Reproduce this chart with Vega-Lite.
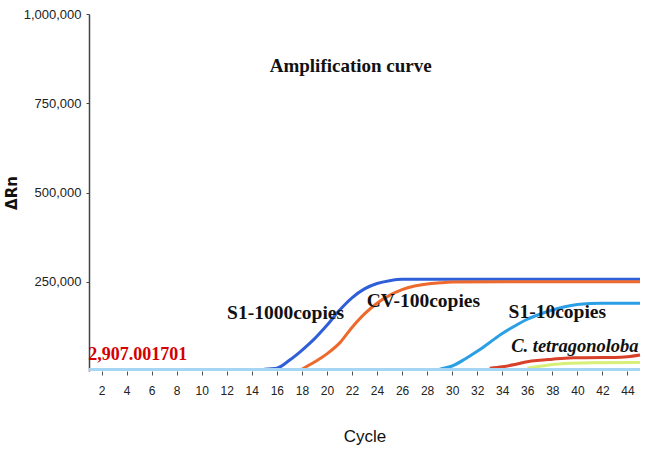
{
  "$schema": "https://vega.github.io/schema/vega-lite/v6.json",
  "width": 551,
  "height": 357,
  "autosize": "none",
  "padding": {"left": 89, "top": 14, "right": 5, "bottom": 84},
  "background": "white",
  "config": {"view": {"stroke": null}},
  "datasets": {
    "curves": [
      {"series": "S1-1000", "cycle": 15, "value": 5000},
      {"series": "S1-1000", "cycle": 16, "value": 8000},
      {"series": "S1-1000", "cycle": 17, "value": 30000},
      {"series": "S1-1000", "cycle": 18, "value": 58000},
      {"series": "S1-1000", "cycle": 19, "value": 90000},
      {"series": "S1-1000", "cycle": 20, "value": 128000},
      {"series": "S1-1000", "cycle": 21, "value": 170000},
      {"series": "S1-1000", "cycle": 22, "value": 205000},
      {"series": "S1-1000", "cycle": 23, "value": 230000},
      {"series": "S1-1000", "cycle": 24, "value": 245000},
      {"series": "S1-1000", "cycle": 25, "value": 253000},
      {"series": "S1-1000", "cycle": 26, "value": 257000},
      {"series": "S1-1000", "cycle": 30, "value": 257000},
      {"series": "S1-1000", "cycle": 35, "value": 257000},
      {"series": "S1-1000", "cycle": 40, "value": 257000},
      {"series": "S1-1000", "cycle": 45, "value": 257000},
      {"series": "CV-100", "cycle": 18, "value": 5000},
      {"series": "CV-100", "cycle": 19, "value": 25000},
      {"series": "CV-100", "cycle": 20, "value": 48000},
      {"series": "CV-100", "cycle": 21, "value": 78000},
      {"series": "CV-100", "cycle": 22, "value": 122000},
      {"series": "CV-100", "cycle": 23, "value": 160000},
      {"series": "CV-100", "cycle": 24, "value": 190000},
      {"series": "CV-100", "cycle": 25, "value": 212000},
      {"series": "CV-100", "cycle": 26, "value": 228000},
      {"series": "CV-100", "cycle": 27, "value": 238000},
      {"series": "CV-100", "cycle": 28, "value": 244000},
      {"series": "CV-100", "cycle": 29, "value": 247000},
      {"series": "CV-100", "cycle": 30, "value": 249000},
      {"series": "CV-100", "cycle": 35, "value": 250000},
      {"series": "CV-100", "cycle": 40, "value": 250000},
      {"series": "CV-100", "cycle": 45, "value": 250000},
      {"series": "S1-10", "cycle": 29, "value": 5000},
      {"series": "S1-10", "cycle": 30, "value": 14000},
      {"series": "S1-10", "cycle": 31, "value": 33000},
      {"series": "S1-10", "cycle": 32, "value": 55000},
      {"series": "S1-10", "cycle": 33, "value": 80000},
      {"series": "S1-10", "cycle": 34, "value": 105000},
      {"series": "S1-10", "cycle": 35, "value": 126000},
      {"series": "S1-10", "cycle": 36, "value": 145000},
      {"series": "S1-10", "cycle": 37, "value": 159000},
      {"series": "S1-10", "cycle": 38, "value": 171000},
      {"series": "S1-10", "cycle": 39, "value": 180000},
      {"series": "S1-10", "cycle": 40, "value": 186000},
      {"series": "S1-10", "cycle": 41, "value": 189000},
      {"series": "S1-10", "cycle": 42, "value": 190000},
      {"series": "S1-10", "cycle": 45, "value": 190000},
      {"series": "C-yellow", "cycle": 36, "value": 8000},
      {"series": "C-yellow", "cycle": 37, "value": 13000},
      {"series": "C-yellow", "cycle": 38, "value": 18000},
      {"series": "C-yellow", "cycle": 39, "value": 21000},
      {"series": "C-yellow", "cycle": 41, "value": 23000},
      {"series": "C-yellow", "cycle": 45, "value": 24000},
      {"series": "C-red", "cycle": 33, "value": 8000},
      {"series": "C-red", "cycle": 34, "value": 12000},
      {"series": "C-red", "cycle": 35, "value": 18000},
      {"series": "C-red", "cycle": 36, "value": 26000},
      {"series": "C-red", "cycle": 37, "value": 30000},
      {"series": "C-red", "cycle": 38, "value": 33000},
      {"series": "C-red", "cycle": 39, "value": 36000},
      {"series": "C-red", "cycle": 40, "value": 37000},
      {"series": "C-red", "cycle": 42, "value": 38000},
      {"series": "C-red", "cycle": 43, "value": 38000},
      {"series": "C-red", "cycle": 44, "value": 40000},
      {"series": "C-red", "cycle": 45, "value": 45000},
      {"series": "Baseline", "cycle": 1, "value": 4000},
      {"series": "Baseline", "cycle": 45, "value": 4000}
    ],
    "labels": [
      {"label": "S1-1000copies", "cycle": 16.7, "value": 162000},
      {"label": "CV-100copies", "cycle": 27.7, "value": 195000},
      {"label": "S1-10copies", "cycle": 38.4, "value": 165000}
    ]
  },
  "layer": [
    {
      "mark": {"type": "rule", "color": "#aaaaaa", "strokeDash": [2, 2], "strokeWidth": 1},
      "encoding": {"y": {"datum": 1000000}}
    },
    {
      "data": {"name": "curves"},
      "mark": {"type": "line", "strokeWidth": 3, "interpolate": "monotone"},
      "encoding": {
        "x": {
          "field": "cycle", "type": "quantitative",
          "scale": {"domain": [1, 45], "nice": false, "zero": false},
          "axis": {
            "title": "Cycle", "values": [2,4,6,8,10,12,14,16,18,20,22,24,26,28,30,32,34,36,38,40,42,44],
            "tickCount": 44, "format": "d", "labelOverlap": false,
            "domain": false, "grid": false, "tickSize": 4, "tickColor": "#555",
            "labelFont": "Liberation Sans, Arial, sans-serif",
            "labelFontSize": 12, "labelColor": "#222", "labelPadding": 10,
            "titleFont": "Liberation Sans, Arial, sans-serif",
            "titleFontSize": 17, "titleFontWeight": "normal", "titleColor": "#111", "titlePadding": 32
          }
        },
        "y": {
          "field": "value", "type": "quantitative",
          "scale": {"domain": [0, 1000000], "nice": false},
          "axis": {
            "title": "ΔRn", "values": [250000, 500000, 750000, 1000000], "format": ",d",
            "grid": false, "domainColor": "#444", "domainWidth": 1.5, "tickSize": 3, "tickColor": "#444",
            "labelFont": "Liberation Sans, Arial, sans-serif",
            "labelFontSize": 13, "labelColor": "#222", "labelPadding": 5,
            "titleFont": "DejaVu Sans, sans-serif", "titleFontSize": 15, "titleFontWeight": "bold",
            "titleColor": "#111", "titlePadding": 4
          }
        },
        "color": {
          "field": "series", "type": "nominal", "legend": null,
          "scale": {
            "domain": ["S1-1000", "CV-100", "S1-10", "C-yellow", "C-red", "Baseline"],
            "range": ["#2f5fd8", "#ee6a2c", "#2a9fe6", "#d8ef78", "#d8402a", "#a6d6f6"]
          }
        },
        "strokeWidth": {
          "field": "series", "type": "nominal", "legend": null,
          "scale": {
            "domain": ["S1-1000", "CV-100", "S1-10", "C-yellow", "C-red", "Baseline"],
            "range": [3, 3, 2.5, 6, 2.5, 7]
          }
        },
        "order": {"field": "series"}
      }
    },
    {
      "data": {"values": [{"label": "Amplification curve", "cycle": 21.9, "value": 855000}]},
      "mark": {"type": "text", "font": "Liberation Serif, Times New Roman, serif", "fontSize": 19, "fontWeight": "bold", "color": "#111", "baseline": "middle"},
      "encoding": {
        "x": {"field": "cycle", "type": "quantitative"},
        "y": {"field": "value", "type": "quantitative"},
        "text": {"field": "label"}
      }
    },
    {
      "data": {"name": "labels"},
      "mark": {"type": "text", "font": "Liberation Serif, Times New Roman, serif", "fontSize": 19.5, "fontWeight": "bold", "color": "#111", "baseline": "middle"},
      "encoding": {
        "x": {"field": "cycle", "type": "quantitative"},
        "y": {"field": "value", "type": "quantitative"},
        "text": {"field": "label"}
      }
    },
    {
      "data": {"values": [{"label": "C. tetragonoloba", "cycle": 39.8, "value": 69000}]},
      "mark": {"type": "text", "font": "Liberation Serif, Times New Roman, serif", "fontSize": 18.5, "fontWeight": "bold", "fontStyle": "italic", "color": "#111", "baseline": "middle"},
      "encoding": {
        "x": {"field": "cycle", "type": "quantitative"},
        "y": {"field": "value", "type": "quantitative"},
        "text": {"field": "label"}
      }
    },
    {
      "data": {"values": [{"label": "2,907.001701", "cycle": 4.9, "value": 46000}]},
      "mark": {"type": "text", "font": "Liberation Serif, Times New Roman, serif", "fontSize": 18, "fontWeight": "bold", "color": "#d40000", "baseline": "middle"},
      "encoding": {
        "x": {"field": "cycle", "type": "quantitative"},
        "y": {"field": "value", "type": "quantitative"},
        "text": {"field": "label"}
      }
    }
  ]
}
